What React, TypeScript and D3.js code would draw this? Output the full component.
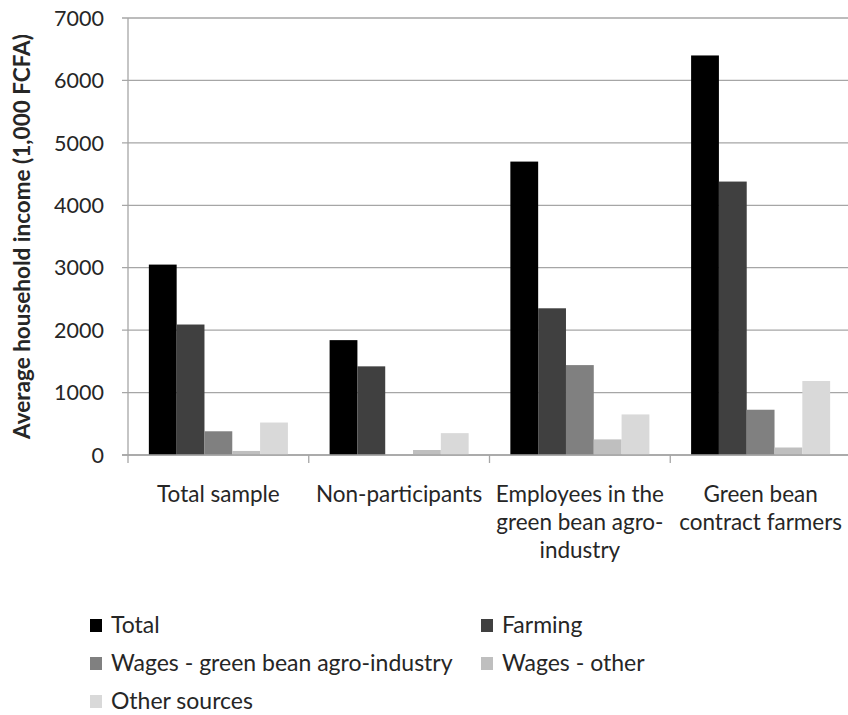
import React from "react";
import * as d3 from "d3";

const categories = ["Total sample", "Non-participants", "Employees in the green bean agro-industry", "Green bean contract farmers"];
const categoryLines = [["Total sample"], ["Non-participants"], ["Employees in the", "green bean agro-", "industry"], ["Green bean", "contract farmers"]];
const seriesNames = ["Total", "Farming", "Wages - green bean agro-industry", "Wages - other", "Other sources"];
const seriesColors = ["#000000", "#404040", "#808080", "#bfbfbf", "#d9d9d9"];
const totalValues = [3050, 1840, 4700, 6400];
const farmingValues = [2090, 1420, 2350, 4380];
const wagesGreenValues = [380, 0, 1440, 725];
const wagesOtherValues = [65, 80, 250, 120];
const otherSourcesValues = [520, 350, 650, 1185];
const yTicks = [0, 1000, 2000, 3000, 4000, 5000, 6000, 7000];

const seriesValues = [totalValues, farmingValues, wagesGreenValues, wagesOtherValues, otherSourcesValues];

const W = 848;
const H = 715;
const left = 128;
const right = 851;
const top = 18;
const bottom = 455;
const font = "Lato, 'Open Sans', sans-serif";
const gridColor = "#a6a6a6";
const textColor = "#262626";

export default function App() {
  const x0 = d3.scaleBand<string>().domain(categories).range([left, right]);
  const x1 = d3
    .scaleBand<string>()
    .domain(seriesNames)
    .range([0, x0.bandwidth()])
    .paddingInner(0)
    .paddingOuter(0.75);
  const y = d3.scaleLinear().domain([0, 7000]).range([bottom, top]);

  const legendItems = [
    { x: 90, y: 633 },
    { x: 481, y: 633 },
    { x: 90, y: 671 },
    { x: 481, y: 671 },
    { x: 90, y: 709 },
  ];

  return (
    <svg width={W} height={H} style={{ position: "absolute", left: 0, top: 0, background: "#fff" }}>
      {yTicks.map((t) => (
        <g key={t}>
          <line x1={left - 6} x2={W} y1={y(t)} y2={y(t)} stroke={gridColor} strokeWidth={1.3} />
          <text x={104} y={y(t)} dy="0.36em" textAnchor="end" fontFamily={font} fontSize={21.5} fill={textColor}>
            {t}
          </text>
        </g>
      ))}
      <line x1={left} x2={left} y1={top} y2={bottom + 8} stroke={gridColor} strokeWidth={1.3} />
      {categories.map((c) => (
        <line key={c} x1={(x0(c) as number) + x0.bandwidth()} x2={(x0(c) as number) + x0.bandwidth()} y1={bottom} y2={bottom + 8} stroke={gridColor} strokeWidth={1.3} />
      ))}
      {categories.map((c, ci) => (
        <g key={c} transform={`translate(${x0(c)},0)`}>
          {seriesNames.map((s, si) => {
            const v = seriesValues[si][ci];
            return (
              <rect
                key={s}
                x={x1(s)}
                y={y(v)}
                width={x1.bandwidth()}
                height={bottom - y(v)}
                fill={seriesColors[si]}
              />
            );
          })}
        </g>
      ))}
      <line x1={left - 6} x2={W} y1={bottom} y2={bottom} stroke={gridColor} strokeWidth={1.3} />
      {categories.map((c, ci) => (
        <text key={c} textAnchor="middle" fontFamily={font} fontSize={22.5} fill={textColor}>
          {categoryLines[ci].map((ln, li) => (
            <tspan key={li} x={(x0(c) as number) + x0.bandwidth() / 2} y={502 + li * 28}>
              {ln}
            </tspan>
          ))}
        </text>
      ))}
      <text
        transform={`translate(30,${(top + bottom) / 2}) rotate(-90)`}
        textAnchor="middle"
        fontFamily={font}
        fontSize={22.5}
        fontWeight="bold"
        fill={textColor}
      >
        Average household income (1,000 FCFA)
      </text>
      {seriesNames.map((s, si) => (
        <g key={s}>
          <rect x={legendItems[si].x} y={legendItems[si].y - 14} width={12} height={13} fill={seriesColors[si]} />
          <text x={legendItems[si].x + 21} y={legendItems[si].y} fontFamily={font} fontSize={23} fill={textColor}>
            {s}
          </text>
        </g>
      ))}
    </svg>
  );
}
